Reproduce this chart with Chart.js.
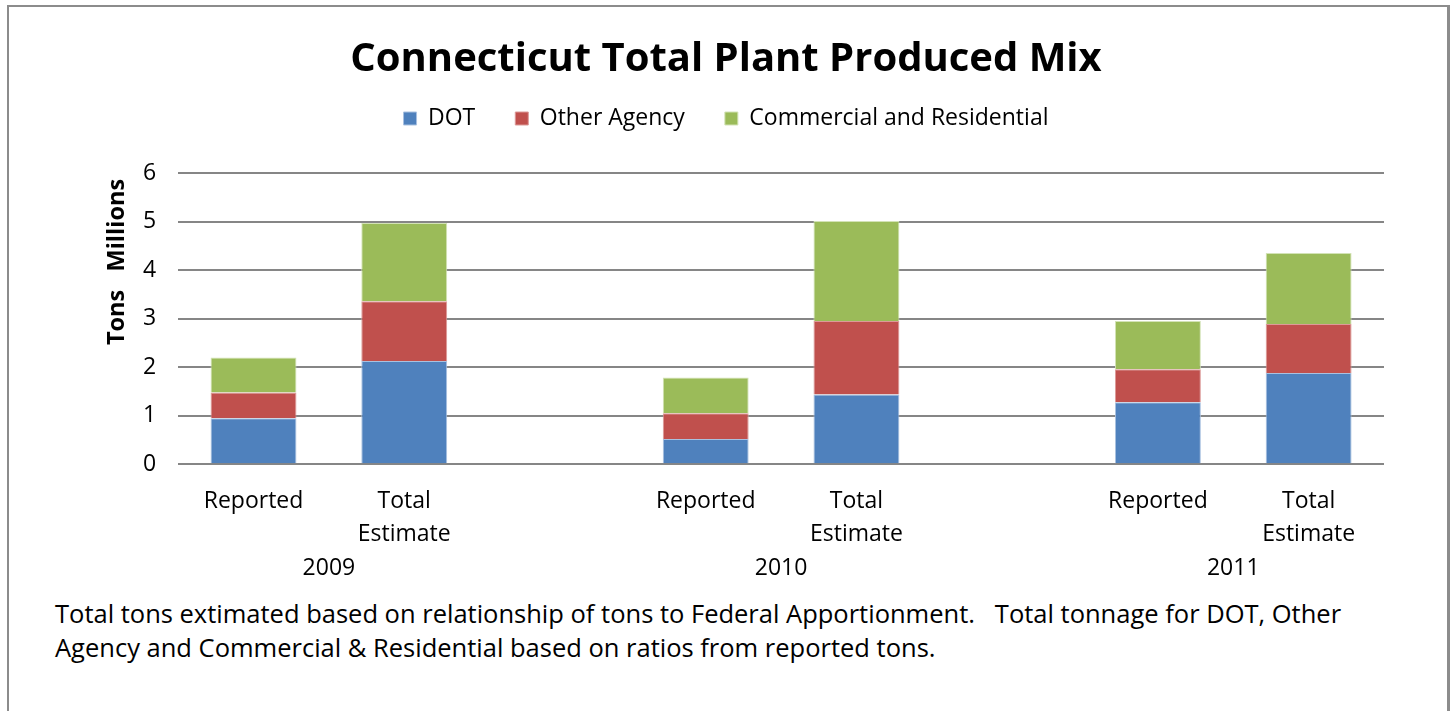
<!DOCTYPE html>
<html>
<head>
<meta charset="utf-8">
<script src="https://cdn.jsdelivr.net/npm/chart.js@4/dist/chart.umd.min.js"></script>
<style>
  body { margin: 0; background: #fff; font-family: "Open Sans", sans-serif; }
  #frame { position: absolute; left: 7px; top: 5px; width: 1438px; height: 720px; border: 2px solid #8c8c8c; border-right-width: 3px; }
  #wrap { position: absolute; left: 0; top: 0; width: 1452px; height: 592px; }
  #nota { position: absolute; left: 55px; top: 596px; font-size: 25.5px; line-height: 34px; color: #000; }
</style>
</head>
<body>
<div id="frame"></div>
<div id="wrap"><canvas id="chart"></canvas></div>
<div id="nota">Total tons extimated based on relationship of tons to Federal Apportionment.&nbsp;&nbsp; Total tonnage for DOT, Other<br>Agency and Commercial &amp; Residential based on ratios from reported tons.</div>
<script>
// categorias: Reported / Total Estimate por año, con hueco entre años
const categorias = [['Reported'], ['Total', 'Estimate'], '', ['Reported'], ['Total', 'Estimate'], '', ['Reported'], ['Total', 'Estimate']];
const anios = ['2009', '2010', '2011'];

// millones de toneladas
const dot       = [0.95, 2.13, null, 0.52, 1.44, null, 1.28, 1.88];
const otraAgencia = [0.53, 1.23, null, 0.53, 1.51, null, 0.68, 1.01];
const comercial = [0.72, 1.61, null, 0.74, 2.06, null, 0.99, 1.46];

const ticksY = [0, 1, 2, 3, 4, 5, 6];

const fuente = '"Open Sans", sans-serif';

// espacio extra debajo de la leyenda
const espacioLeyenda = {
    id: 'espacioLeyenda',
    beforeInit(chart) {
        const fitOriginal = chart.legend.fit;
        chart.legend.fit = function () {
            fitOriginal.bind(chart.legend)();
            this.height += 33;
        };
    }
};

const etiquetasExtra = {
    id: 'etiquetasExtra',
    afterDraw(chart) {
        const ctx = chart.ctx;
        const x = chart.scales.x;
        ctx.save();
        ctx.fillStyle = '#000';
        ctx.font = '23px ' + fuente;
        ctx.textAlign = 'center';
        ctx.textBaseline = 'middle';
        anios.forEach((a, i) => {
            const p1 = x.getPixelForValue(i * 3);
            const p2 = x.getPixelForValue(i * 3 + 1);
            ctx.fillText(a, (p1 + p2) / 2, 568);
        });
        // titulo eje Y
        ctx.translate(117, 262);
        ctx.rotate(-Math.PI / 2);
        ctx.font = 'bold 23.5px ' + fuente;
        ctx.fillText('Tons   Millions', 0, 0);
        ctx.restore();
    }
};

new Chart(document.getElementById('chart'), {
    type: 'bar',
    data: {
        labels: categorias,
        datasets: [
            { label: 'DOT', data: dot, backgroundColor: '#4F81BD', borderColor: '#a9c1e0', borderWidth: 1 },
            { label: 'Other Agency', data: otraAgencia, backgroundColor: '#C0504D', borderColor: '#dc9a98', borderWidth: 1 },
            { label: 'Commercial and Residential', data: comercial, backgroundColor: '#9BBB59', borderColor: '#d3e3b6', borderWidth: 1 }
        ]
    },
    options: {
        responsive: true,
        maintainAspectRatio: false,
        animation: false,
        categoryPercentage: 1,
        barPercentage: 0.57,
        layout: { padding: { left: 68, right: 68, top: 18, bottom: 29 } },
        plugins: {
            title: {
                display: true,
                text: 'Connecticut Total Plant Produced Mix',
                color: '#000',
                font: { family: fuente, size: 40, weight: 'bold' },
                padding: { top: 18, bottom: -17 }
            },
            legend: {
                position: 'top',
                labels: {
                    color: '#000',
                    boxWidth: 13, boxHeight: 13,
                    padding: 40,
                    font: { family: fuente, size: 23 }
                }
            },
            tooltip: { enabled: false }
        },
        scales: {
            x: {
                stacked: true,
                grid: { display: false },
                border: { display: false },
                ticks: { color: '#000', font: { family: fuente, size: 23, lineHeight: 1.45 }, maxRotation: 0, autoSkip: false, padding: 12 }
            },
            y: {
                stacked: true,
                min: 0, max: 6,
                afterBuildTicks: axis => { axis.ticks = ticksY.map(v => ({ value: v })); },
                afterFit: axis => { axis.width += 53; },
                grid: { color: '#868686', lineWidth: 2, drawTicks: false },
                border: { display: false },
                ticks: { color: '#000', font: { family: fuente, size: 23 }, padding: 22 }
            }
        }
    },
    plugins: [espacioLeyenda, etiquetasExtra]
});
</script>
</body>
</html>
